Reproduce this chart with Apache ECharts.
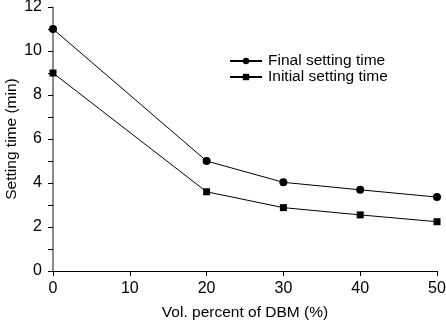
<!DOCTYPE html>
<html><head><meta charset="utf-8">
<script src="https://cdn.jsdelivr.net/npm/echarts@6/dist/echarts.min.js"></script>
<style>html,body{margin:0;padding:0;background:#fff}#c{width:446px;height:324px}</style>
</head><body><div id="c"></div>
<script>
const xValues = [0, 20, 30, 40, 50];
const finalSetting = [11, 5.0, 4.03, 3.69, 3.36];
const initialSetting = [9, 3.6, 2.88, 2.55, 2.24];
const seriesNames = ['Final setting time', 'Initial setting time'];
const xTitle = 'Vol. percent of DBM (%)';
const yTitle = 'Setting time (min)';

const font = 'Arial, "Liberation Sans", sans-serif';
const chart = echarts.init(document.getElementById('c'), null, {renderer: 'canvas'});
const pair = (xs, ys) => xs.map((x, i) => [x, ys[i]]);
chart.setOption({
  animation: false,
  backgroundColor: '#fff',
  grid: {left: 53, right: 9, top: 7, bottom: 53, containLabel: false, outerBoundsMode: 'none'},
  legend: {
    orient: 'vertical', left: 224, top: 48, itemGap: 0,
    itemWidth: 32, itemHeight: 8,
    textStyle: {fontFamily: font, fontSize: 15.5, color: '#000', padding: [0,0,0,1]},
    data: seriesNames
  },
  xAxis: {
    type: 'value', min: 0, max: 50, interval: 10,
    name: xTitle, nameLocation: 'middle', nameGap: 34, nameMoveOverlap: false,
    nameTextStyle: {fontFamily: font, fontSize: 15.5, color: '#000'},
    axisLine: {onZero: false, lineStyle: {color: '#000', width: 1}},
    axisTick: {show: true, inside: false, length: 5, lineStyle: {color: '#000'}},
    axisLabel: {fontFamily: font, fontSize: 16, color: '#000', margin: 10},
    splitLine: {show: false}
  },
  yAxis: {
    type: 'value', min: 0, max: 12, interval: 2,
    name: yTitle, nameLocation: 'middle', nameGap: 33, nameMoveOverlap: false,
    nameTextStyle: {fontFamily: font, fontSize: 15.5, color: '#000'},
    axisLine: {show: true, onZero: false, lineStyle: {color: '#666', width: 1.5}},
    axisTick: {show: true, inside: false, length: 5, lineStyle: {color: '#000'}},
    minorTick: {show: true, splitNumber: 2, length: 5, lineStyle: {color: '#000'}},
    axisLabel: {fontFamily: font, fontSize: 16, color: '#000', margin: 11},
    splitLine: {show: false}
  },
  series: [
    {
      name: seriesNames[0], type: 'line', data: pair(xValues, finalSetting),
      symbol: 'circle', symbolSize: 8, showSymbol: true,
      lineStyle: {color: '#000', width: 1}, itemStyle: {color: '#000'}
    },
    {
      name: seriesNames[1], type: 'line', data: pair(xValues, initialSetting),
      symbol: 'rect', symbolSize: 7, showSymbol: true,
      lineStyle: {color: '#000', width: 1}, itemStyle: {color: '#000'}
    }
  ]
});
</script></body></html>
